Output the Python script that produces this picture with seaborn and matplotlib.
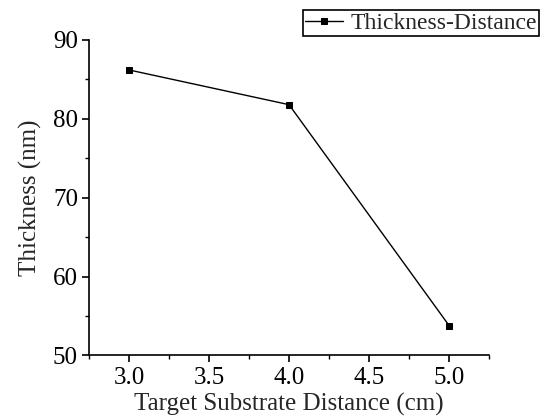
import matplotlib

matplotlib.use("Agg")

import matplotlib.pyplot as plt
import pandas as pd
import seaborn as sns
from matplotlib.ticker import FormatStrFormatter, MultipleLocator


distance_cm = [3.0, 4.0, 5.0]
thickness_nm = [86.2, 81.8, 53.8]
series_name = "Thickness-Distance"


def main() -> None:
	sns.set_theme(style="ticks")
	plt.rcParams["font.family"] = ["Liberation Serif", "DejaVu Serif"]

	df = pd.DataFrame({"distance": distance_cm, "thickness": thickness_nm})

	fig = plt.figure(figsize=(5.41, 4.2), dpi=100)
	ax = fig.add_axes([0.1645, 0.1536, 0.7395, 0.7512])

	sns.lineplot(
		data=df,
		x="distance",
		y="thickness",
		color="black",
		linewidth=1.0,
		marker="s",
		markersize=5,
		markeredgecolor="black",
		label=series_name,
		ax=ax,
	)

	ax.set_xlim(2.75, 5.25)
	ax.set_ylim(50, 90)
	ax.xaxis.set_major_locator(MultipleLocator(0.5))
	ax.xaxis.set_minor_locator(MultipleLocator(0.25))
	ax.yaxis.set_major_locator(MultipleLocator(10))
	ax.yaxis.set_minor_locator(MultipleLocator(5))
	ax.xaxis.set_major_formatter(FormatStrFormatter("%.1f"))

	for side in ("top", "right"):
		ax.spines[side].set_visible(False)
	for side in ("left", "bottom"):
		ax.spines[side].set_linewidth(1.2)
		ax.spines[side].set_color("black")

	ax.tick_params(which="major", direction="out", length=5, width=1.2,
		labelsize=18, colors="black", pad=3)
	ax.tick_params(which="minor", direction="out", length=3, width=1.0, colors="black")

	ax.set_xlabel("Target Substrate Distance (cm)", fontsize=18, labelpad=3)
	ax.set_ylabel("Thickness (nm)", fontsize=18, labelpad=8)

	leg = ax.legend(
		loc="upper right",
		bbox_to_anchor=(539 / 541, 1 - 10 / 420),
		bbox_transform=fig.transFigure,
		fontsize=17,
		frameon=True,
		fancybox=False,
		handlelength=1.6,
		handletextpad=0.3,
		borderpad=0.1,
		borderaxespad=0,
	)
	leg.get_frame().set_edgecolor("black")
	leg.get_frame().set_linewidth(1.2)
	leg.get_frame().set_alpha(1)

	fig.savefig("out.png", dpi=100)
	plt.close(fig)


if __name__ == "__main__":
	main()
